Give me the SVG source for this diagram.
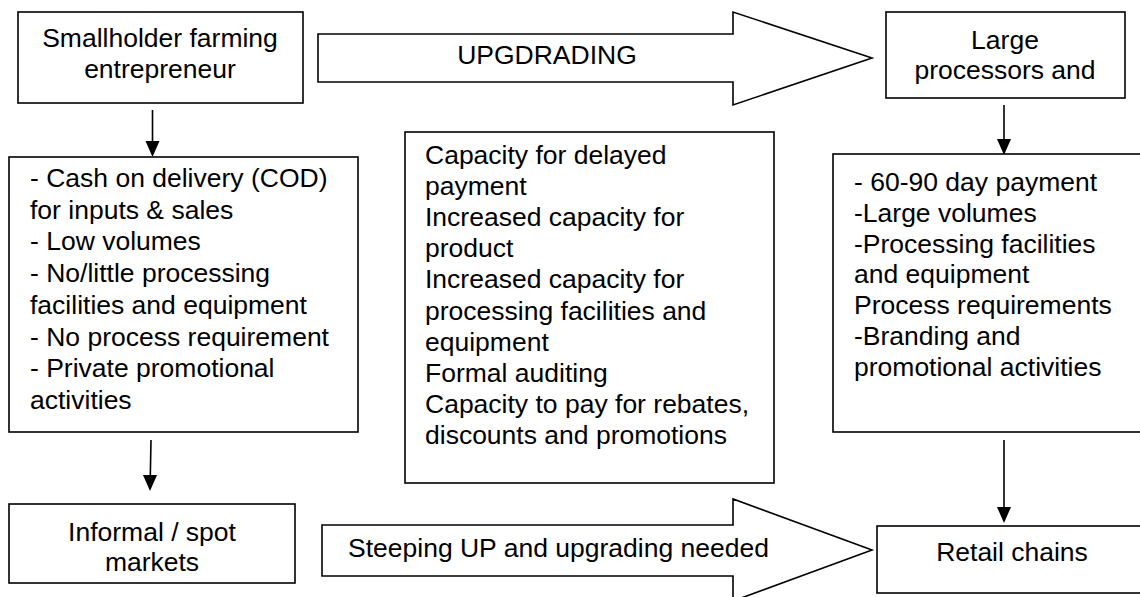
<svg xmlns="http://www.w3.org/2000/svg" width="1140" height="597" viewBox="0 0 1140 597">
<defs>
<style>
.box{fill:#fff;stroke:#000;stroke-width:1.6}
.t{font-family:"Liberation Sans",Arial,sans-serif;font-size:26.5px;fill:#000}
.c{text-anchor:middle}
.con{stroke:#000;stroke-width:1.6;fill:none}
.head{fill:#000}
</style>
</defs>
<rect width="1140" height="597" fill="#fff"/>
<g id="connectors">
<line class="con" x1="152.5" y1="110" x2="152.5" y2="142"/>
<path class="head" d="M145.5,141 L159.5,141 L152.5,157 Z"/>
<line class="con" x1="151" y1="440" x2="150.3" y2="476"/>
<path class="head" d="M143,475 L157,475 L150,491 Z"/>
<line class="con" x1="1004" y1="105" x2="1004" y2="140"/>
<path class="head" d="M997,139 L1011,139 L1004,155 Z"/>
<line class="con" x1="1004" y1="440" x2="1004" y2="508"/>
<path class="head" d="M997,507 L1011,507 L1004,523 Z"/>
</g>
<g id="upgrading-arrow">
<polygon class="box" points="318,34 733,34 733,12 872,58 733,105 733,82 318,82"/>
<text class="t c" x="547" y="64">UPGDRADING</text>
</g>
<g id="steeping-arrow">
<polygon class="box" points="322,525 733,525 733,499 872,550 733,601 733,576 322,576"/>
<text class="t" x="348" y="557">Steeping UP and upgrading needed</text>
</g>
<g id="smallholder">
<rect class="box" x="18" y="12" width="285" height="91"/>
<text class="t c" x="160" y="47">Smallholder farming</text>
<text class="t c" x="160" y="78">entrepreneur</text>
</g>
<g id="large-processors">
<rect class="box" x="886" y="12" width="239" height="86"/>
<text class="t c" x="1005" y="49">Large</text>
<text class="t c" x="1005" y="79">processors and</text>
</g>
<g id="smallholder-traits">
<rect class="box" x="9" y="157" width="349" height="275"/>
<text class="t" x="30" y="187">- Cash on delivery (COD)</text>
<text class="t" x="30" y="218.7">for inputs &amp; sales</text>
<text class="t" x="30" y="250.4">- Low volumes</text>
<text class="t" x="30" y="282.1">- No/little processing</text>
<text class="t" x="30" y="313.8">facilities and equipment</text>
<text class="t" x="30" y="345.5">- No process requirement</text>
<text class="t" x="30" y="377.2">- Private promotional</text>
<text class="t" x="30" y="408.9">activities</text>
</g>
<g id="requirements">
<rect class="box" x="405" y="132" width="369" height="351"/>
<text class="t" x="425" y="164">Capacity for delayed</text>
<text class="t" x="425" y="195.1">payment</text>
<text class="t" x="425" y="226.2">Increased capacity for</text>
<text class="t" x="425" y="257.3">product</text>
<text class="t" x="425" y="288.4">Increased capacity for</text>
<text class="t" x="425" y="319.5">processing facilities and</text>
<text class="t" x="425" y="350.6">equipment</text>
<text class="t" x="425" y="381.7">Formal auditing</text>
<text class="t" x="425" y="412.8">Capacity to pay for rebates,</text>
<text class="t" x="425" y="443.9">discounts and promotions</text>
</g>
<g id="processor-traits">
<rect class="box" x="833" y="154" width="320" height="278"/>
<text class="t" x="854" y="191">- 60-90 day payment</text>
<text class="t" x="854" y="221.8">-Large volumes</text>
<text class="t" x="854" y="252.6">-Processing facilities</text>
<text class="t" x="854" y="283.4">and equipment</text>
<text class="t" x="854" y="314.2">Process requirements</text>
<text class="t" x="854" y="345">-Branding and</text>
<text class="t" x="854" y="375.8">promotional activities</text>
</g>
<g id="informal-markets">
<rect class="box" x="9" y="504" width="286" height="79"/>
<text class="t c" x="152" y="541">Informal / spot</text>
<text class="t c" x="152" y="571">markets</text>
</g>
<g id="retail-chains">
<rect class="box" x="877" y="526" width="280" height="67"/>
<text class="t c" x="1012" y="561">Retail chains</text>
</g>
</svg>
